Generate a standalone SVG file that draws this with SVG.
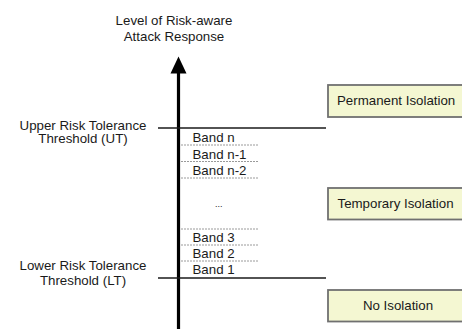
<svg xmlns="http://www.w3.org/2000/svg" width="462" height="329" viewBox="0 0 462 329">
<style>
text{font-family:"Liberation Sans",Arial,sans-serif;font-size:13.3px;fill:#1a1a1a}
.c{text-anchor:middle}
.th{stroke:#1a1a1a;stroke-width:1.6;fill:none}
.ds{stroke:#9a9a9a;stroke-width:1;stroke-dasharray:2 1;fill:none}
.box{fill:#f4f7d2;stroke:#707070;stroke-width:1.8}
</style>
<rect width="462" height="329" fill="#fff"/>
<g id="axis">
<line x1="178.5" y1="70" x2="178.5" y2="329" stroke="#000" stroke-width="3.2"/>
<polygon points="178.5,56.5 170.5,73.5 186.5,73.5" fill="#000"/>
<text class="c" x="174" y="25">Level of Risk-aware</text>
<text class="c" x="174" y="41">Attack Response</text>
</g>
<g id="connectors">
<line class="th" x1="158" y1="128" x2="326" y2="128"/>
<line class="th" x1="158" y1="278" x2="326" y2="278"/>
<line class="ds" x1="181" y1="145" x2="259" y2="145"/>
<line class="ds" x1="181" y1="161.5" x2="259" y2="161.5"/>
<line class="ds" x1="181" y1="178" x2="259" y2="178"/>
<line class="ds" x1="181" y1="229" x2="259" y2="229"/>
<line class="ds" x1="181" y1="245" x2="259" y2="245"/>
<line class="ds" x1="181" y1="261" x2="259" y2="261"/>
</g>
<g id="ut">
<text class="c" x="83" y="129.5">Upper Risk Tolerance</text>
<text class="c" x="83" y="143">Threshold (UT)</text>
</g>
<g id="lt">
<text class="c" x="83" y="270">Lower Risk Tolerance</text>
<text class="c" x="83" y="284.5">Threshold (LT)</text>
</g>
<g id="bands">
<text x="192.5" y="142">Band n</text>
<text x="192.5" y="158.5">Band n-1</text>
<text x="192.5" y="175">Band n-2</text>
<text x="215" y="207" style="font-size:9px">...</text>
<text x="192.5" y="242">Band 3</text>
<text x="192.5" y="258">Band 2</text>
<text x="192.5" y="274">Band 1</text>
</g>
<g id="permanent">
<rect class="box" x="328" y="85" width="140" height="32"/>
<text x="337" y="105">Permanent Isolation</text>
</g>
<g id="temporary">
<rect class="box" x="328" y="188" width="140" height="31.5"/>
<text x="337.5" y="208">Temporary Isolation</text>
</g>
<g id="none">
<rect class="box" x="328" y="290" width="140" height="31.5"/>
<text class="c" x="398" y="310">No Isolation</text>
</g>
</svg>
